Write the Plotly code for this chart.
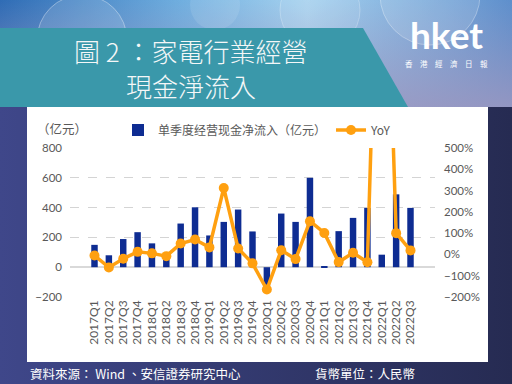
import base64
import plotly.graph_objects as go

# ---------------- data ----------------
quarters = ["2017Q1", "2017Q2", "2017Q3", "2017Q4",
            "2018Q1", "2018Q2", "2018Q3", "2018Q4",
            "2019Q1", "2019Q2", "2019Q3", "2019Q4",
            "2020Q1", "2020Q2", "2020Q3", "2020Q4",
            "2021Q1", "2021Q2", "2021Q3", "2021Q4",
            "2022Q1", "2022Q2", "2022Q3"]
ocf = [150, 80, 189, 235, 160, 65, 293, 402, 213, 304, 387, 240,
       -140, 360, 304, 600, 8, 242, 331, 398, 84, 489, 398]
yoy = [-5, -61, -20, 12, 5, -8, 51, 70, 33, 312, 28, -42,
       -165, 20, -22, 156, 101, -36, 8, -37, 2200, 100, 19]

bar_name = "单季度经营现金净流入（亿元）"
line_name = "YoY"
unit_label = "（亿元）"
title_line1 = "圖 2 ：家電行業經營"
title_line2 = "現金淨流入"
source_text = "資料來源： Wind 、安信證券研究中心"
currency_text = "貨幣單位：人民幣"

# ---------------- geometry helpers ----------------
W, H = 512, 384
L, R, T, B = 70, 435, 148, 297  # plot area in pixels
PW, PH = R - L, B - T


def px(x):
    return (x - L) / PW


def py(y):
    return (B - y) / PH


# ---------------- background svg ----------------
svg = f"""<svg xmlns='http://www.w3.org/2000/svg' width='{W}' height='{H}' viewBox='0 0 {W} {H}'>
<defs>
<linearGradient id='bg' x1='0' y1='0' x2='1' y2='0'>
<stop offset='0' stop-color='#3F478A'/><stop offset='1' stop-color='#262B52'/>
</linearGradient>
<linearGradient id='hd' x1='0' y1='0' x2='1' y2='0'>
<stop offset='0' stop-color='#2F6CB5'/><stop offset='0.35' stop-color='#6FAEDF'/>
<stop offset='0.6' stop-color='#A6D2EF'/><stop offset='1' stop-color='#5E8FCC'/>
</linearGradient>
<linearGradient id='hv' x1='0' y1='0' x2='0' y2='1'>
<stop offset='0' stop-color='#9C97C0' stop-opacity='0'/><stop offset='1' stop-color='#9C97C0' stop-opacity='0.85'/>
</linearGradient>
</defs>
<rect width='{W}' height='{H}' fill='url(#bg)'/>
<rect width='{W}' height='107' fill='url(#hd)'/>
<rect width='{W}' height='107' fill='url(#hv)'/>
<circle cx='82' cy='40' r='45' fill='white' fill-opacity='0.12' stroke='white' stroke-opacity='0.35'/>
<circle cx='215' cy='5' r='25' fill='white' fill-opacity='0.10'/>
<circle cx='320' cy='10' r='40' fill='white' fill-opacity='0.10' stroke='white' stroke-opacity='0.25'/>
<circle cx='430' cy='-5' r='50' fill='white' fill-opacity='0.12' stroke='white' stroke-opacity='0.3'/>
</svg>"""
svg_uri = "data:image/svg+xml;base64," + base64.b64encode(svg.encode("utf-8")).decode("ascii")

fig = go.Figure()

fig.add_trace(go.Bar(
    x=quarters, y=ocf, name=bar_name, yaxis="y",
    marker=dict(color="#0E2C92", line=dict(width=0)),
))
fig.add_trace(go.Scatter(
    x=quarters, y=yoy, name=line_name, yaxis="y2", mode="lines+markers",
    line=dict(color="#FFA010", width=3.5),
    marker=dict(color="#FFA010", size=10),
))

cjk_tc = "Noto Sans CJK TC"
cjk_sc = "Noto Sans CJK SC"
tick_font = dict(family="Lato, Noto Sans", size=11.5, color="#595959")

fig.update_layout(
    width=W, height=H,
    margin=dict(l=L, r=W - R, t=T, b=H - B, pad=0),
    paper_bgcolor="#2B3060",
    plot_bgcolor="white",
    bargap=0.55,
    showlegend=True,
    legend=dict(
        orientation="h", x=px(118), y=py(130), xanchor="left", yanchor="middle",
        font=dict(family=cjk_sc, size=12, color="#595959"),
        bgcolor="rgba(0,0,0,0)", itemwidth=30, tracegroupgap=0,
    ),
    xaxis=dict(
        type="category", tickangle=-90, showgrid=False, showline=False,
        ticks="", tickfont=dict(family="Lato, Noto Sans", size=12, color="#595959"),
    ),
    yaxis=dict(
        range=[-200, 800], dtick=200, tick0=0, showgrid=True,
        gridcolor="#D4D4D4", griddash="dash", gridwidth=1,
        zeroline=True, zerolinecolor="#D9D9D9", zerolinewidth=2,
        showline=False, ticks="", tickfont=tick_font, ticklabelstandoff=7,
    ),
    yaxis2=dict(
        range=[-200, 500], dtick=100, tick0=0, overlaying="y", side="right",
        showgrid=False, zeroline=False, showline=False, ticks="",
        ticksuffix="%", tickfont=tick_font, ticklabelstandoff=8,
    ),
    images=[dict(
        source=svg_uri, xref="paper", yref="paper",
        x=px(0), y=py(0), sizex=W / PW, sizey=H / PH,
        xanchor="left", yanchor="top", sizing="stretch", layer="below",
    )],
    shapes=[
        # white chart panel
        dict(type="rect", xref="paper", yref="paper",
             x0=px(27), x1=px(488), y0=py(362), y1=py(107),
             fillcolor="white", line=dict(width=0), layer="below"),
        # teal title banner
        dict(type="path", xref="paper", yref="paper",
             path=f"M {px(0)},{py(28)} L {px(363)},{py(28)} L {px(408)},{py(107)} L {px(0)},{py(107)} Z",
             fillcolor="#3A98AA", line=dict(width=0), layer="below"),
    ],
)

annotations = [
    dict(text=title_line1, x=px(190), y=py(50),
         font=dict(family=cjk_tc, size=26, color="#F4F7F8", weight=300)),
    dict(text=title_line2, x=px(191), y=py(85),
         font=dict(family=cjk_tc, size=26, color="#F4F7F8", weight=300)),
    dict(text="<b>hket</b>", x=px(446), y=py(34), font=dict(family="Lato", size=37, color="white")),
    dict(text="香　港　經　濟　日　報", x=px(446), y=py(63), font=dict(family=cjk_tc, size=7.5, color="white")),
    dict(text=unit_label, x=px(62), y=py(128), font=dict(family=cjk_sc, size=12.5, color="#595959")),
    dict(text=source_text, x=px(28), y=py(373), xanchor="left", font=dict(family=cjk_tc, size=12.5, color="white")),
    dict(text=currency_text, x=px(313), y=py(373), xanchor="left", font=dict(family=cjk_tc, size=12.5, color="white")),
]
for a in annotations:
    a.setdefault("xanchor", "center")
    a.update(xref="paper", yref="paper", yanchor="middle", showarrow=False)
fig.update_layout(annotations=annotations)

fig.write_html(
    "out.html",
    config={"displayModeBar": False},
    post_script="document.body.style.margin='0';document.body.style.overflow='hidden';",
)
